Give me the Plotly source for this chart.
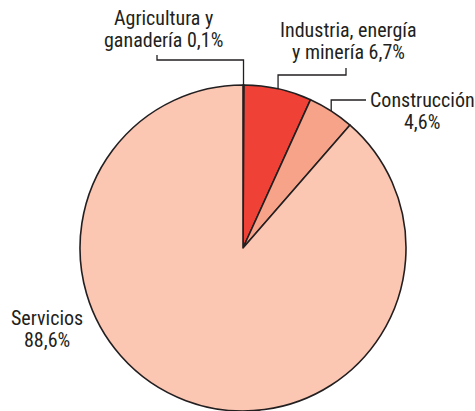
import math
import plotly.graph_objects as go

# Sector shares of the economy (%)
sectors = ["Agricultura y ganadería", "Industria, energía y minería", "Construcción", "Servicios"]
shares = [0.1, 6.7, 4.6, 88.6]
share_text = ["0,1%", "6,7%", "4,6%", "88,6%"]
colors = ["#f6b39e", "#ef4136", "#f6a38a", "#fbc6b2"]

W, H = 475, 411
cx, cy, r = 243, 248, 163
FONT = "Liberation Sans Narrow, Arial Narrow, Roboto Condensed, DejaVu Sans Condensed, sans-serif"
INK = "#231f20"

fig = go.Figure()
fig.add_trace(go.Pie(
    labels=sectors, values=shares, sort=False, direction="clockwise", rotation=0,
    marker=dict(colors=colors, line=dict(color=INK, width=1.6)),
    textinfo="none", hoverinfo="label+value", showlegend=False,
    domain=dict(x=[(cx - r) / W, (cx + r) / W], y=[(H - cy - r) / H, (H - cy + r) / H]),
))


def edge_point(i):
    # mid angle of slice i, measured clockwise from 12 o'clock
    start = sum(shares[:i])
    mid = (start + shares[i] / 2) / sum(shares) * 2 * math.pi
    return cx + r * math.sin(mid), cy - r * math.cos(mid)


# leader lines: up from slice edge to an elbow, across, then a short tick
leaders = [
    (0, 60, 157, 55),
    (1, 75, 346, 68),
    (2, 100, 366, 100),
]
for i, y_elbow, x_end, y_tick in leaders:
    x0, y0 = edge_point(i)
    fig.add_trace(go.Scatter(
        x=[x0, x0, x_end, x_end], y=[y0, y_elbow, y_elbow, y_tick],
        mode="lines", line=dict(color=INK, width=1.3),
        hoverinfo="skip", showlegend=False,
    ))

# label lines: (text, x center, y middle)
label_lines = [
    ("Agricultura y", 163, 18),
    ("ganadería " + share_text[0], 163, 40),
    ("Industria, energía", 348, 30),
    ("y minería " + share_text[1], 348, 52),
    ("Construcción", 422, 100),
    (share_text[2], 422, 122),
    ("Servicios", 47, 318),
    (share_text[3], 47, 340),
]
for text, x, y in label_lines:
    fig.add_annotation(x=x, y=y, xref="x", yref="y", text=text, showarrow=False,
                       xanchor="center", yanchor="middle",
                       font=dict(family=FONT, size=20, color=INK))

fig.update_layout(
    width=W, height=H,
    margin=dict(l=0, r=0, t=0, b=0),
    xaxis=dict(visible=False, range=[0, W], fixedrange=True),
    yaxis=dict(visible=False, range=[H, 0], fixedrange=True),
    plot_bgcolor="white", paper_bgcolor="white",
)

fig.write_html("out.html", config={"displayModeBar": False},
               post_script="document.body.style.margin='0';document.body.style.overflow='hidden';")
